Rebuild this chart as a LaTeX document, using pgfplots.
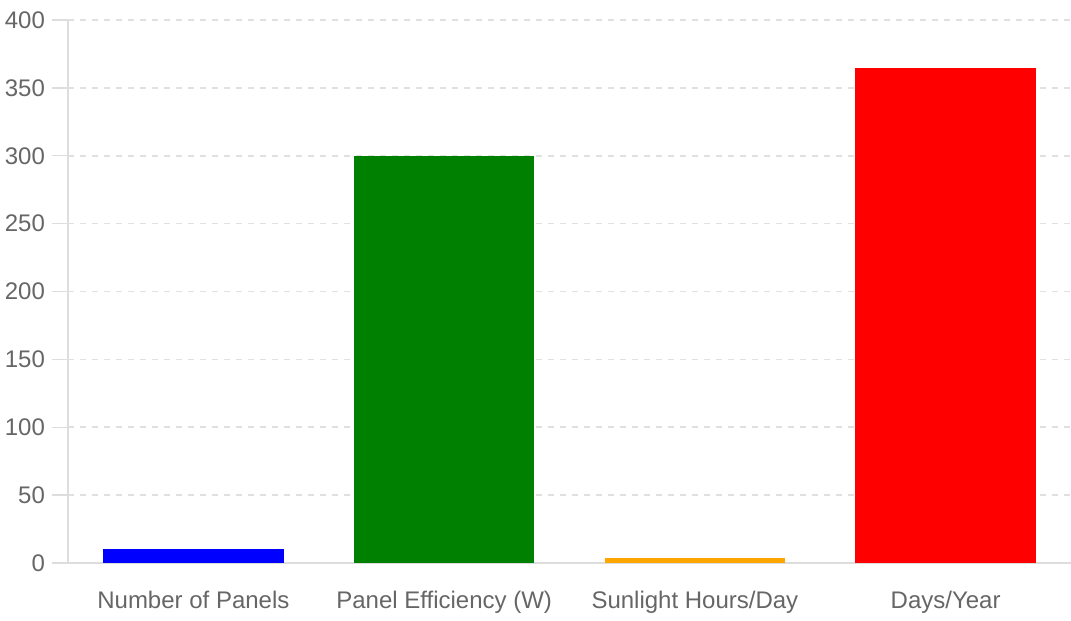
\documentclass[border=0pt]{standalone}
\usepackage{fontspec}
\setmainfont{Liberation Sans}
\usepackage{pgfplots}
\pgfplotsset{compat=1.18}
\definecolor{lbl}{HTML}{666666}
\definecolor{gridc}{HTML}{E0E0E0}
\definecolor{axisc}{HTML}{DDDDDD}
\definecolor{cblue}{RGB}{0,0,255}
\definecolor{cgreen}{RGB}{0,128,0}
\definecolor{corange}{RGB}{255,165,0}
\definecolor{cred}{RGB}{255,0,0}
\begin{document}
\begin{tikzpicture}[font=\fontsize{12}{14}\selectfont]
\begin{axis}[
  name=ax,
  scale only axis, width=501.5pt, height=271.5pt,
  xmin=-0.5, xmax=3.5, ymin=0, ymax=400,
  ytick={0,50,...,400},
  xtick={0,1,2,3},
  xticklabels={Number of Panels, Panel Efficiency (W), Sunlight Hours/Day, Days/Year},
  axis x line*=bottom, axis y line*=left,
  axis line style={-, draw=axisc, line width=0.7pt},
  ymajorgrids,
  grid style={draw=gridc, dash pattern=on 3pt off 3pt, line width=0.8pt},
  tick align=outside, major tick length=8pt,
  y tick style={draw=axisc, line width=0.7pt},
  x tick style={draw=none},
  tick label style={text=lbl},
  xticklabel style={yshift=-2.5pt},
  /pgf/number format/assume math mode=true,
  ybar, bar width=0.72, bar shift=0pt,
]
\addplot[fill=cblue, draw=none] coordinates {(0,10)};
\addplot[fill=cgreen, draw=none] coordinates {(1,300)};
\addplot[fill=corange, draw=none] coordinates {(2,4)};
\addplot[fill=cred, draw=none] coordinates {(3,365)};
\end{axis}
\pgfresetboundingbox
\useasboundingbox ([xshift=-34pt,yshift=-28.5pt]ax.south west) rectangle ([yshift=10pt]ax.north east);
\end{tikzpicture}
\end{document}
